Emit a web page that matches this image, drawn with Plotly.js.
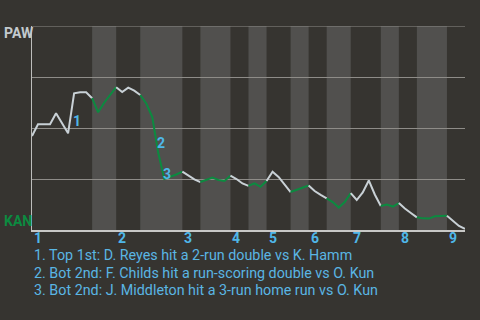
<!DOCTYPE html>
<html>
<head>
<meta charset="utf-8">
<script src="https://cdn.plot.ly/plotly-3.0.1.min.js"></script>
<style>
  html, body { margin: 0; padding: 0; background: #363430; }
  #chart { width: 480px; height: 320px; }
</style>
</head>
<body>
<div id="chart"></div>
<script>
// Win probability (1 = PAW wins, 0 = KAN wins) after each play, in order.
const winProb = [
  0.461, 0.518, 0.518, 0.518, 0.572, 0.524, 0.474, 0.670, 0.675, 0.675, 0.646,
  0.577, 0.624, 0.660, 0.700,
  0.676, 0.698, 0.683, 0.662,
  0.620, 0.554, 0.377, 0.250, 0.260, 0.272, 0.286,
  0.267, 0.248, 0.235,
  0.245, 0.257, 0.245, 0.240, 0.266,
  0.250, 0.228, 0.216,
  0.229, 0.212, 0.240,
  0.286, 0.260, 0.221, 0.186,
  0.196, 0.208, 0.218,
  0.191, 0.172, 0.155,
  0.137, 0.110, 0.137, 0.181,
  0.147, 0.184, 0.243, 0.174, 0.118,
  0.125, 0.115, 0.132,
  0.105, 0.083, 0.062,
  0.057, 0.056, 0.067, 0.069, 0.070,
  0.046, 0.020, 0.005
];

// Play index where each half-inning starts (last entry = final play).
const halfInningBounds = [0, 10, 14, 18, 25, 28, 33, 36, 39, 43, 46, 49, 53, 58, 61, 64, 69, 72];

// Inning labels along the bottom, placed at the first play of each inning.
const inningLabels = ['1', '2', '3', '4', '5', '6', '7', '8', '9'];
const inningStarts = [0, 14, 25, 33, 39, 46, 53, 61, 69];

// Key plays: the play index where the swing happened, and its description.
const keyPlays = [7, 21, 22];
const keyPlayNotes = [
  '1. Top 1st: D. Reyes hit a 2-run double vs K. Hamm',
  '2. Bot 2nd: F. Childs hit a run-scoring double vs O. Kun',
  '3. Bot 2nd: J. Middleton hit a 3-run home run vs O. Kun'
];

const awayTeam = 'PAW';
const homeTeam = 'KAN';

const BG = '#363430';
const BAND = '#51504e';
const GRID = '#8e8c88';
const AWAY_COLOR = '#c9d1d6';
const HOME_COLOR = '#0c8a40';
const BLUE = '#4fb7e9';
const FONT = 'Roboto, "Noto Sans", sans-serif';

// One line segment per half-inning: visitors batting in light grey, home team in green.
const traces = [];
const shapes = [];
for (let k = 0; k < halfInningBounds.length - 1; k++) {
  const a = halfInningBounds[k], b = halfInningBounds[k + 1];
  const xs = [], ys = [];
  for (let i = a; i <= b; i++) { xs.push(i); ys.push(winProb[i]); }
  const isBottom = k % 2 === 1;
  traces.push({
    x: xs, y: ys, type: 'scatter', mode: 'lines', hoverinfo: 'skip',
    line: { color: isBottom ? HOME_COLOR : AWAY_COLOR, width: 2 },
    showlegend: false
  });
  if (isBottom) {
    shapes.push({
      type: 'rect', layer: 'below', xref: 'x', yref: 'paper',
      x0: a, x1: b, y0: 0, y1: 1, fillcolor: BAND, line: { width: 0 }
    });
  }
}
// Top rule of the probability scale (100% for the visitors).
shapes.push({
  type: 'line', layer: 'between', xref: 'paper', yref: 'y',
  x0: 0, x1: 1, y0: 1, y1: 1, line: { color: GRID, width: 1 }
});

const annotations = [];

// Team names at the top and bottom of the probability scale.
annotations.push({
  text: '<b>' + awayTeam + '</b>', xref: 'paper', yref: 'paper', x: -0.07, y: 0.968,
  xanchor: 'left', yanchor: 'middle', showarrow: false,
  font: { family: FONT, size: 14, color: '#c3c9cd' }
});
annotations.push({
  text: '<b>' + homeTeam + '</b>', xref: 'paper', yref: 'paper', x: -0.07, y: 0.044,
  xanchor: 'left', yanchor: 'middle', showarrow: false,
  font: { family: FONT, size: 14, color: HOME_COLOR }
});

// Inning numbers.
inningLabels.forEach((lab, j) => {
  annotations.push({
    text: '<b>' + lab + '</b>', xref: 'x', yref: 'paper', x: inningStarts[j], y: -0.039,
    xanchor: 'left', yanchor: 'middle', showarrow: false,
    font: { family: FONT, size: 14, color: BLUE }
  });
});

// Numbered markers beside each key swing.
keyPlays.forEach((p, j) => {
  annotations.push({
    text: '<b>' + (j + 1) + '</b>', xref: 'x', yref: 'y',
    x: p - 0.5, y: (winProb[p - 1] + winProb[p]) / 2,
    xshift: 6, yshift: -8, xanchor: 'center', yanchor: 'middle', showarrow: false,
    font: { family: FONT, size: 14, color: BLUE }
  });
});

// Key play descriptions under the chart.
keyPlayNotes.forEach((note, j) => {
  annotations.push({
    text: note, xref: 'paper', yref: 'paper', x: 0, y: -0.1225 - j * 0.087,
    xanchor: 'left', yanchor: 'middle', showarrow: false,
    font: { family: FONT, size: 14.3, color: '#5ab6e4' }
  });
});

const layout = {
  width: 480, height: 320,
  margin: { l: 32, r: 15, t: 26, b: 90, pad: 0 },
  paper_bgcolor: BG, plot_bgcolor: BG,
  showlegend: false,
  xaxis: {
    range: [0, 72], showgrid: false, zeroline: false, showticklabels: false,
    ticks: '', showline: true, linecolor: '#c8c8c6', linewidth: 2, fixedrange: true
  },
  yaxis: {
    range: [0, 1], tickvals: [0.25, 0.5, 0.75, 1], showticklabels: false, ticks: '',
    showgrid: true, gridcolor: GRID, gridwidth: 1, zeroline: false,
    showline: true, linecolor: '#bdbdbb', linewidth: 1, fixedrange: true
  },
  shapes: shapes,
  annotations: annotations
};

Plotly.newPlot('chart', traces, layout, { displayModeBar: false, staticPlot: true });
</script>
</body>
</html>
